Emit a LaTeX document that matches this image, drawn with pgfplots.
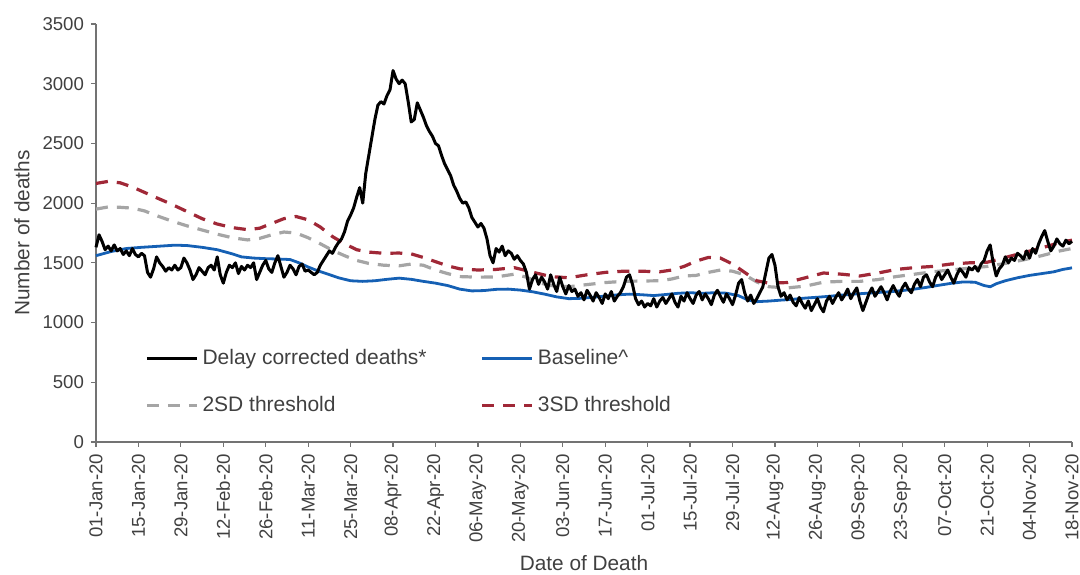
\documentclass[border=0pt]{standalone}
\usepackage{pgfplots}
\pgfplotsset{compat=1.18}
\usepackage{fontspec}
\setmainfont{Liberation Sans}
\definecolor{cblue}{RGB}{21,96,180}
\definecolor{cred}{RGB}{160,40,55}
\definecolor{cgray}{RGB}{165,165,165}
\definecolor{ctext}{RGB}{64,64,64}
\begin{document}
\begin{tikzpicture}
\begin{axis}[
  name=ax,
  scale only axis, width=488pt, height=209pt,
  xmin=0, xmax=322, ymin=0, ymax=3500,
  axis lines=left, axis line style={-, black!55, line width=0.6pt},
  tick align=outside, major tick length=2.5pt,
  tick style={black!55, line width=0.6pt},
  xtick={0,14,...,322},
  xticklabels={01-Jan-20,15-Jan-20,29-Jan-20,12-Feb-20,26-Feb-20,11-Mar-20,25-Mar-20,08-Apr-20,22-Apr-20,06-May-20,20-May-20,03-Jun-20,17-Jun-20,01-Jul-20,15-Jul-20,29-Jul-20,12-Aug-20,26-Aug-20,09-Sep-20,23-Sep-20,07-Oct-20,21-Oct-20,04-Nov-20,18-Nov-20},
  xticklabel style={rotate=90, anchor=east, font=\fontsize{9.3}{11}\selectfont, text=ctext},
  ytick={0,500,...,3500},
  yticklabel style={font=\fontsize{9.3}{11}\selectfont, text=ctext, /pgf/number format/assume math mode=true, /pgf/number format/1000 sep={}},
  xlabel={Date of Death}, ylabel={Number of deaths},
  xlabel style={at={(axis description cs:0.5,-0.2895)}, anchor=center, font=\fontsize{10.4}{12}\selectfont, text=ctext},
  ylabel style={at={(axis description cs:-0.0758,0.5)}, anchor=center, font=\fontsize{10.4}{12}\selectfont, text=ctext},
  legend columns=2,
  legend image code/.code={\draw[#1] (0pt,0pt) -- (25pt,0pt);},
  legend style={at={(0.044,0.242)}, anchor=north west, draw=none, fill=none,
    font=\fontsize{10.5}{12}\selectfont, text=ctext, row sep=10.5pt,
    /tikz/every even column/.append style={column sep=25pt}},
  legend cell align=left,
  clip=false,
]
\addlegendimage{black, line width=1.5pt}
\addlegendentry{Delay corrected deaths*}
\addlegendimage{cblue, line width=1.4pt}
\addlegendentry{Baseline\textasciicircum}
\addlegendimage{cgray, line width=1.6pt, dash pattern=on 6pt off 4.5pt}
\addlegendentry{2SD threshold}
\addlegendimage{cred, line width=1.6pt, dash pattern=on 6pt off 4.5pt}
\addlegendentry{3SD threshold}

\addplot[forget plot, cgray, line width=1.6pt, dash pattern=on 6pt off 4.5pt] coordinates {
(0,1950)(4,1968)(8,1965)(12,1958)(16,1935)(20,1895)(25,1850)(30,1810)(35,1775)(40,1740)(45,1710)(50,1692)(54,1705)(58,1735)(62,1758)(66,1750)(70,1710)(74,1660)(78,1605)(82,1560)(86,1520)(90,1495)(95,1480)(100,1475)(104,1490)(108,1480)(112,1440)(116,1410)(120,1385)(126,1380)(132,1382)(138,1405)(142,1380)(146,1335)(150,1310)(156,1300)(162,1318)(168,1335)(174,1345)(180,1348)(186,1350)(190,1365)(194,1390)(198,1395)(202,1420)(206,1440)(210,1430)(214,1400)(218,1340)(222,1300)(228,1290)(234,1305)(240,1338)(246,1345)(252,1345)(258,1360)(264,1385)(270,1405)(276,1425)(282,1440)(288,1455)(294,1470)(300,1495)(306,1525)(312,1560)(318,1600)(322,1620)};
\addplot[forget plot, cred, line width=1.6pt, dash pattern=on 6pt off 4.5pt] coordinates {
(0,2165)(4,2182)(8,2170)(12,2135)(16,2090)(20,2045)(25,1990)(30,1930)(35,1870)(40,1825)(45,1795)(50,1778)(54,1790)(58,1830)(62,1870)(66,1888)(70,1860)(74,1800)(78,1720)(82,1660)(86,1610)(90,1590)(95,1580)(100,1582)(104,1575)(108,1545)(112,1510)(116,1475)(120,1450)(126,1440)(132,1445)(138,1460)(142,1435)(146,1410)(150,1385)(156,1375)(162,1400)(168,1420)(174,1430)(180,1430)(186,1425)(190,1440)(194,1470)(198,1515)(202,1545)(206,1540)(210,1490)(214,1420)(218,1350)(222,1330)(228,1335)(234,1375)(240,1415)(246,1405)(252,1390)(258,1415)(264,1445)(270,1460)(276,1470)(282,1490)(288,1500)(294,1505)(300,1545)(306,1585)(312,1625)(318,1670)(322,1690)};
\addplot[forget plot, cblue, line width=1.4pt] coordinates {
(0,1560)(5,1595)(10,1620)(15,1630)(20,1638)(26,1648)(30,1645)(35,1630)(40,1610)(45,1575)(48,1550)(52,1540)(56,1535)(60,1532)(64,1528)(67,1500)(70,1465)(73,1435)(76,1410)(80,1375)(84,1350)(88,1345)(92,1350)(96,1362)(100,1372)(104,1362)(108,1345)(112,1330)(116,1310)(120,1280)(124,1265)(128,1268)(132,1278)(136,1280)(140,1272)(144,1258)(148,1238)(152,1215)(156,1200)(160,1203)(164,1212)(168,1222)(172,1232)(176,1238)(180,1233)(184,1226)(188,1235)(192,1245)(196,1250)(200,1245)(204,1250)(208,1246)(212,1225)(215,1190)(218,1175)(222,1180)(226,1188)(230,1195)(234,1205)(238,1212)(242,1220)(246,1230)(250,1238)(254,1245)(258,1252)(262,1258)(266,1268)(270,1280)(274,1295)(278,1312)(282,1328)(286,1340)(290,1338)(293,1310)(295,1300)(297,1325)(300,1350)(304,1375)(308,1395)(312,1410)(316,1425)(319,1445)(322,1458)};
\addplot[forget plot, black, line width=1.5pt, line join=round] coordinates {
(0,1630)(1,1735)(2,1680)(3,1610)(4,1640)(5,1600)(6,1650)(7,1600)(8,1620)(9,1570)(10,1600)(11,1560)(12,1620)(13,1570)(14,1550)(15,1580)(16,1560)(17,1420)(18,1380)(19,1450)(20,1550)(21,1500)(22,1470)(23,1430)(24,1460)(25,1440)(26,1480)(27,1440)(28,1460)(29,1540)(30,1500)(31,1440)(32,1360)(33,1400)(34,1460)(35,1430)(36,1400)(37,1460)(38,1480)(39,1440)(40,1550)(41,1400)(42,1330)(43,1420)(44,1480)(45,1460)(46,1500)(47,1410)(48,1470)(49,1440)(50,1480)(51,1460)(52,1500)(53,1360)(54,1420)(55,1480)(56,1520)(57,1450)(58,1420)(59,1500)(60,1560)(61,1470)(62,1380)(63,1420)(64,1480)(65,1450)(66,1400)(67,1470)(68,1490)(69,1430)(70,1440)(71,1420)(72,1400)(73,1420)(74,1480)(75,1520)(76,1560)(77,1600)(78,1580)(79,1630)(80,1670)(81,1700)(82,1760)(83,1850)(84,1900)(85,1960)(86,2050)(87,2130)(88,2000)(89,2250)(90,2400)(91,2550)(92,2700)(93,2820)(94,2850)(95,2830)(96,2900)(97,2950)(98,3110)(99,3040)(100,3000)(101,3030)(102,3000)(103,2850)(104,2680)(105,2700)(106,2840)(107,2780)(108,2720)(109,2650)(110,2600)(111,2560)(112,2500)(113,2480)(114,2400)(115,2330)(116,2280)(117,2230)(118,2150)(119,2100)(120,2040)(121,2000)(122,2010)(123,1960)(124,1880)(125,1840)(126,1800)(127,1830)(128,1790)(129,1700)(130,1560)(131,1500)(132,1620)(133,1590)(134,1640)(135,1560)(136,1600)(137,1580)(138,1530)(139,1560)(140,1520)(141,1490)(142,1420)(143,1280)(144,1360)(145,1400)(146,1320)(147,1380)(148,1340)(149,1280)(150,1400)(151,1320)(152,1260)(153,1380)(154,1300)(155,1240)(156,1310)(157,1260)
(158,1280)(159,1220)(160,1250)(161,1190)(162,1270)(163,1230)(164,1180)(165,1250)(166,1210)(167,1160)(168,1240)(169,1200)(170,1260)(171,1180)(172,1220)(173,1250)(174,1300)(175,1380)(176,1400)(177,1320)(178,1200)(179,1150)(180,1180)(181,1130)(182,1160)(183,1140)(184,1200)(185,1130)(186,1180)(187,1210)(188,1160)(189,1200)(190,1240)(191,1170)(192,1130)(193,1220)(194,1180)(195,1250)(196,1200)(197,1160)(198,1230)(199,1260)(200,1190)(201,1240)(202,1200)(203,1150)(204,1230)(205,1270)(206,1220)(207,1170)(208,1240)(209,1200)(210,1150)(211,1230)(212,1330)(213,1360)(214,1250)(215,1180)(216,1230)(217,1160)(218,1200)(219,1250)(220,1300)(221,1420)(222,1540)(223,1570)(224,1480)(225,1300)(226,1220)(227,1250)(228,1190)(229,1230)(230,1170)(231,1140)(232,1210)(233,1160)(234,1120)(235,1180)(236,1100)(237,1150)(238,1200)(239,1130)(240,1090)(241,1180)(242,1220)(243,1160)(244,1210)(245,1250)(246,1190)(247,1230)(248,1280)(249,1200)(250,1250)(251,1290)(252,1180)(253,1100)(254,1170)(255,1240)(256,1290)(257,1220)(258,1260)(259,1300)(260,1250)(261,1190)(262,1260)(263,1310)(264,1260)(265,1220)(266,1290)(267,1330)(268,1280)(269,1250)(270,1320)(271,1360)(272,1300)(273,1380)(274,1400)(275,1340)(276,1300)(277,1380)(278,1420)(279,1360)(280,1400)(281,1440)(282,1380)(283,1330)(284,1400)(285,1450)(286,1420)(287,1380)(288,1460)(289,1440)(290,1470)(291,1430)(292,1490)(293,1520)(294,1600)(295,1650)(296,1500)(297,1390)(298,1450)(299,1480)(300,1550)(301,1500)(302,1540)(303,1520)(304,1580)(305,1560)(306,1530)(307,1600)(308,1540)(309,1620)(310,1580)(311,1660)(312,1720)(313,1770)(314,1680)(315,1600)(316,1640)(317,1700)(318,1660)(319,1640)(320,1690)(321,1660)(322,1680)};
\end{axis}
\pgfresetboundingbox
\path ([xshift=-48pt,yshift=-66.5pt]ax.south west) rectangle ([xshift=4pt,yshift=12pt]ax.north east);
\end{tikzpicture}
\end{document}
